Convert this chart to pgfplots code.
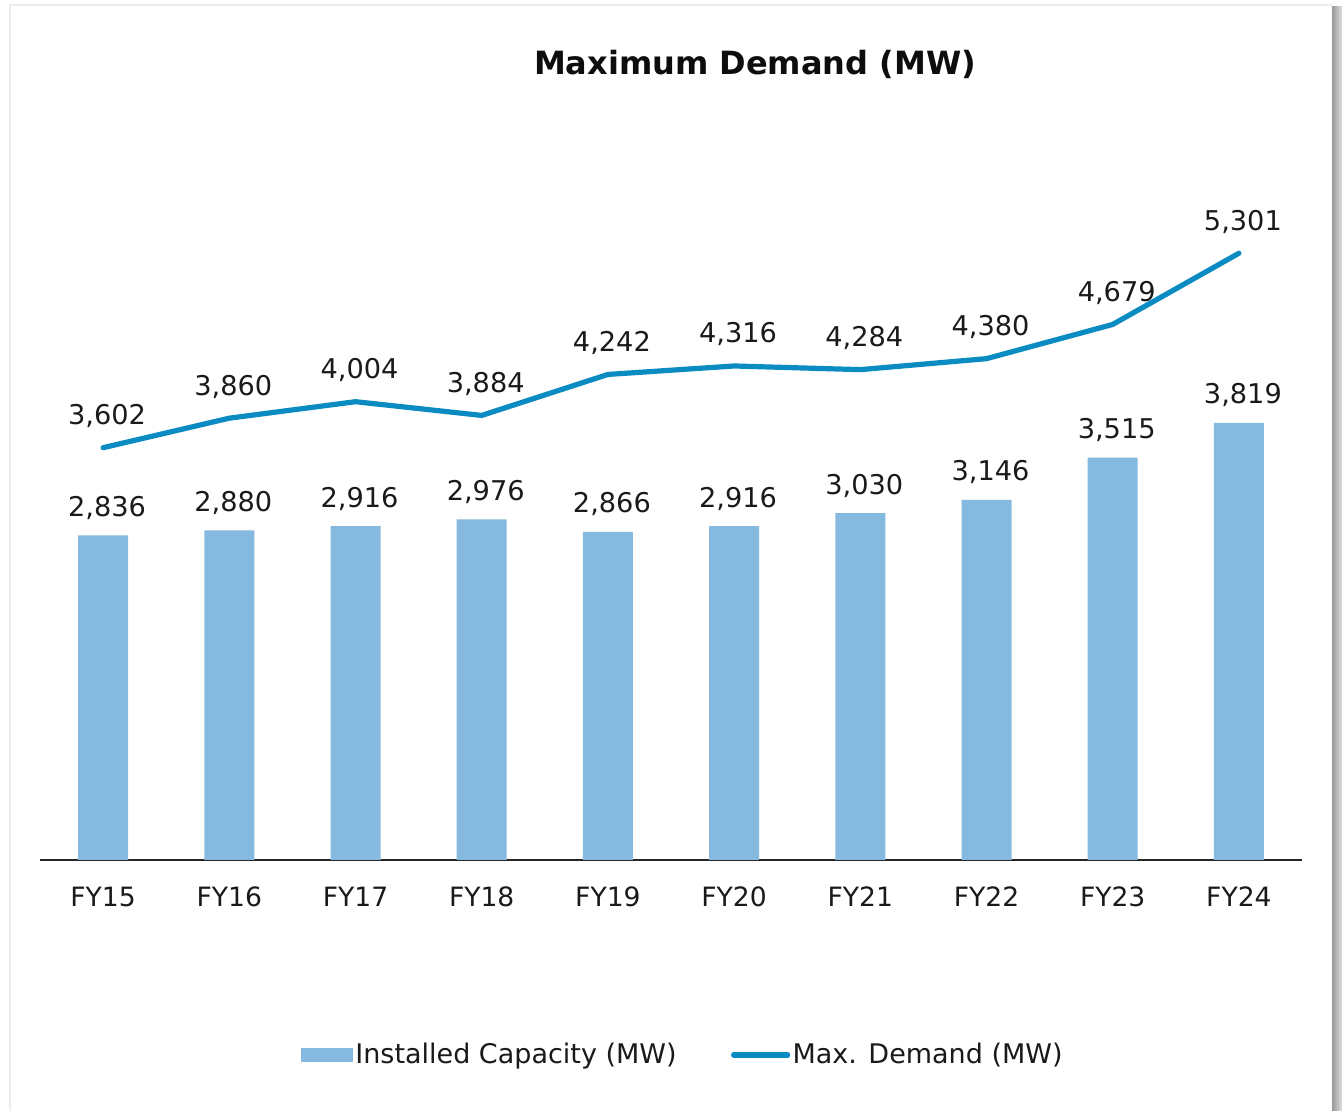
\documentclass[border=0pt]{standalone}
\usepackage{pgfplots}
\pgfplotsset{compat=1.18}
\usepackage{fontspec}
\setmainfont{DejaVu Sans}
\definecolor{barblue}{HTML}{85B9DF}
\definecolor{lineblue}{HTML}{0A8BC2}
\definecolor{txt}{HTML}{1A1A1A}
\begin{document}
\begin{tikzpicture}
\path[use as bounding box, fill=white] (0pt,0pt) rectangle (671pt,555.5pt);
\draw[black!7, line width=1pt] (5pt,0pt) -- (5pt,553pt) -- (666pt,553pt);
\shade[left color=black!40, right color=black!12] (666pt,0pt) rectangle (671pt,552pt);
\begin{axis}[
  at={(20pt,125.5pt)}, anchor=south west,
  scale only axis, width=631pt, height=372pt,
  xmin=-0.5, xmax=9.5, ymin=0, ymax=6500,
  axis y line=none, axis x line=bottom,
  x axis line style={-, draw=black!85, line width=1pt},
  major tick length=0pt, ytick=\empty,
  xtick={0,...,9},
  xticklabels={FY15,FY16,FY17,FY18,FY19,FY20,FY21,FY22,FY23,FY24},
  xticklabel style={anchor=base, yshift=-23.5pt, font=\fontsize{13.3}{16}\selectfont, text=txt},
  /pgf/number format/assume math mode=true,
  /pgf/number format/.cd, fixed, precision=0, 1000 sep={,}, /pgfplots/.cd,
  title={\textbf{Maximum Demand (MW)}},
  title style={at={(0.5666,1.0538)}, anchor=center, font=\fontsize{16}{19}\selectfont, text=black!95},
  legend columns=2,
  legend style={draw=none, fill=none, at={(0.5095,-0.262)}, anchor=center,
    font=\fontsize{13.5}{16}\selectfont, text=txt,
    /tikz/every even column/.append style={column sep=26pt},
    nodes={inner sep=1.2pt}},
  clip=false,
]
\addplot[ybar, bar width=25pt, fill=barblue, draw=none,
  nodes near coords,
  every node near coord/.append style={anchor=base, yshift=9.5pt, xshift=2pt, font=\fontsize{13.6}{16}\selectfont, text=txt},
  legend image code/.code={\fill[barblue] (0pt,-3.5pt) rectangle (26pt,3.5pt);}]
coordinates {(0,2836) (1,2880) (2,2916) (3,2976) (4,2866) (5,2916) (6,3030) (7,3146) (8,3515) (9,3819)};
\addlegendentry{Installed Capacity (MW)}
\addplot[lineblue, line width=2.6pt, line cap=round, line join=round, mark=none,
  nodes near coords,
  every node near coord/.append style={anchor=base, yshift=11.5pt, xshift=2pt, font=\fontsize{13.6}{16}\selectfont, text=txt},
  legend image code/.code={\draw[lineblue, line width=2.6pt, line cap=round] (0pt,0pt) -- (27pt,0pt);}]
coordinates {(0,3602) (1,3860) (2,4004) (3,3884) (4,4242) (5,4316) (6,4284) (7,4380) (8,4679) (9,5301)};
\addlegendentry{Max. Demand (MW)}
\end{axis}
\end{tikzpicture}
\end{document}
